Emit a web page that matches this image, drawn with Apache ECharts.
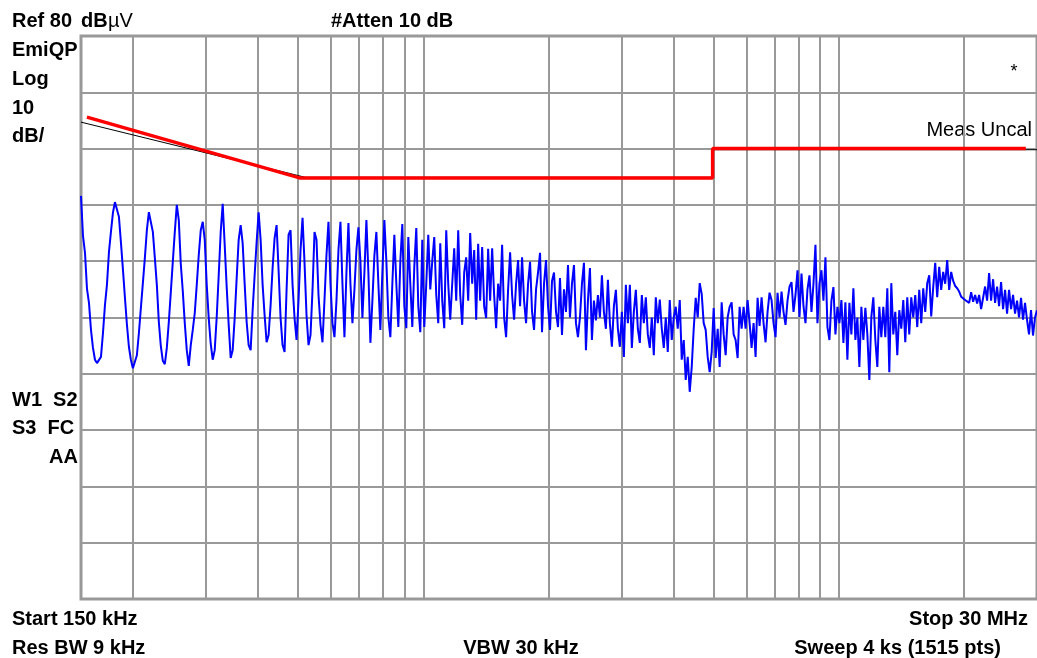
<!DOCTYPE html>
<html>
<head>
<meta charset="utf-8">
<script src="https://cdn.jsdelivr.net/npm/echarts@6/dist/echarts.min.js"></script>
<style>
html,body{margin:0;padding:0;background:#fff;}
#chart{width:1037px;height:658px;}
</style>
</head>
<body>
<div id="chart"></div>
<script>
// sweep (MHz), trace points are spread log-wise from start to stop
var startMHz = 0.15;
var stopMHz = 30;

// EmiQP trace, dBuV
var traceLevels = [
	51.6, 44.5, 41.5, 35.1, 32.6, 27.8, 24.6, 22.5, 21.9, 22.1,
	23.0, 27.2, 32.2, 35.8, 41.6, 45.2, 48.6, 50.5, 50.3, 47.9,
	43.4, 38.6, 33.6, 28.8, 24.8, 22.5, 21.0, 21.2, 23.3, 27.2,
	31.7, 36.1, 40.6, 45.5, 48.7, 48.7, 45.2, 40.6, 35.8, 29.2,
	24.9, 22.3, 21.7, 24.6, 29.2, 34.5, 39.9, 45.2, 50.0, 47.3,
	39.5, 34.7, 29.0, 24.2, 21.4, 25.1, 27.8, 30.8, 35.8, 41.1,
	45.5, 47.0, 43.8, 35.8, 29.9, 25.3, 22.5, 24.2, 30.1, 37.5,
	45.2, 50.2, 42.9, 35.4, 28.7, 22.8, 24.2, 29.9, 37.0, 43.8,
	46.4, 43.2, 36.0, 29.2, 25.1, 24.2, 31.3, 37.5, 43.4, 48.7,
	43.8, 35.8, 30.4, 25.6, 26.9, 32.2, 38.8, 44.1, 46.4, 38.4,
	29.9, 25.1, 23.9, 34.9, 44.7, 45.5, 35.8, 29.9, 26.0, 33.1,
	42.0, 47.7, 39.7, 30.4, 25.1, 26.9, 34.9, 45.2, 43.8, 34.0,
	28.7, 25.6, 33.1, 41.1, 47.0,
	36.0, 29.0, 26.5, 33.0, 42.0, 47.0, 36.0, 26.5, 38.0, 46.8,
	36.0, 29.0, 35.0, 42.0, 46.0, 40.0, 29.9, 38.0, 47.3, 38.0,
	25.5, 33.0, 41.0, 45.2, 36.0, 27.8, 38.0, 47.3, 40.0, 30.0,
	26.5, 36.0, 44.7, 36.0, 28.3, 40.0, 46.6, 32.0, 28.1, 44.3,
	36.0, 28.3, 39.0, 45.9, 32.0, 27.4, 43.8, 28.3, 36.0, 44.7,
	35.0, 40.0, 44.3, 34.0, 29.0, 43.2, 33.0, 28.1, 45.5, 36.0,
	29.6, 36.0, 42.3, 33.0, 45.5, 34.0, 28.7, 38.0, 40.7, 33.0,
	45.0, 36.0, 42.0, 29.6, 43.1, 33.0, 42.5, 32.0, 29.9, 42.2,
	33.0, 42.3, 34.0, 28.1, 36.0, 33.0, 42.9, 30.0, 26.5, 35.0,
	41.6, 34.0, 29.6, 36.0, 40.2, 32.0, 40.7, 33.0, 29.0, 36.0,
	39.9, 31.0, 27.8, 35.0, 38.0, 41.5, 27.4, 36.0, 40.2, 32.0,
	27.8, 36.5, 38.0, 31.0, 28.3, 37.0, 26.9, 35.0, 31.0, 39.3,
	30.0, 36.0, 39.3, 29.0, 26.5,
	30.0, 36.0, 39.7, 24.2, 33.0, 38.8, 26.0, 33.0, 29.5, 34.0,
	30.0, 37.5, 31.0, 28.0, 36.7, 29.0, 24.8, 32.0, 34.9, 28.0,
	24.8, 31.0, 23.0, 35.8, 29.0, 35.8, 24.6, 31.0, 34.9, 28.0,
	25.5, 34.0, 29.0, 33.6, 27.0, 24.6, 30.0, 23.3, 33.6, 29.0,
	33.2, 28.0, 24.6, 30.0, 23.9, 33.1, 26.0, 30.0, 31.9, 28.0,
	33.1, 22.5, 26.0, 18.9, 23.0, 16.8, 21.2, 28.0, 33.5, 30.0,
	36.1, 34.2, 29.0, 27.8, 23.0, 20.3, 23.9, 31.7, 22.8, 28.0,
	21.2, 32.7, 27.0, 23.3, 30.0, 31.9, 32.7, 27.0, 26.0, 22.8,
	31.9, 28.0, 31.9, 28.0, 33.1, 29.0, 24.6, 29.0, 23.0, 33.5,
	28.5, 33.6, 29.0, 25.6, 31.0, 34.4, 33.1, 29.0, 26.5, 34.4,
	30.0, 34.6, 31.0, 28.7, 33.0, 35.5, 36.3, 31.0, 34.0, 38.4,
	30.1, 37.8, 32.0, 29.0, 35.0, 37.5, 31.0, 36.0, 42.9, 29.0,
	36.0, 38.4, 33.0, 40.7, 28.3, 26.0, 33.0, 35.4, 27.0, 31.9,
	29.0, 33.1, 25.5, 32.7, 22.5, 32.6, 27.0, 35.2, 26.0, 30.0,
	21.2, 31.9, 26.0, 31.7, 27.0, 18.9, 30.1, 33.6, 26.0, 21.2,
	31.9, 26.5, 31.9, 26.5, 35.2, 20.3, 36.1, 27.0, 31.0, 23.3,
	31.3, 28.0, 33.1, 25.6, 33.6, 27.0, 33.6, 30.0, 34.0, 28.3,
	34.9, 29.0, 35.2, 31.0, 36.1, 37.5, 30.2, 35.4, 39.7, 33.6,
	39.0, 34.9, 38.1, 36.0, 40.2, 34.9, 38.1, 36.5, 35.6, 35.2,
	34.6, 33.7, 33.4, 33.1, 32.8, 32.6, 34.5, 32.8, 34.0, 32.5,
	34.0, 31.5, 33.5, 35.5, 33.0, 37.9, 33.0, 36.8, 32.6, 35.5,
	32.0, 36.3, 31.5, 34.9, 30.7, 34.9, 31.5, 34.0, 30.7, 33.0,
	30.0, 33.5, 29.6, 32.6, 29.6, 27.0, 31.3, 26.8, 30.0, 31.3
];

// limit lines
var redFreq = [0.155, 0.504, 4.97, 4.97, 28.2];
var redLevel = [65.6, 54.8, 54.8, 60.0, 60.0];
var blackFreq = [0.15, 0.52, 4.97, 4.97, 30];
var blackLevel = [64.7, 54.9, 54.9, 59.8, 59.8];

// vertical graticule (MHz)
var gridFreqs = [0.2, 0.3, 0.4, 0.5, 0.6, 0.7, 0.8, 0.9, 1, 2, 3, 4, 5, 6, 7, 8, 9, 10, 20];

function pairs(xs, ys) {
	var out = [];
	for (var i = 0; i < xs.length; i++) out.push([xs[i], ys[i]]);
	return out;
}

var n = traceLevels.length;
var traceData = traceLevels.map(function (v, i) {
	return [startMHz * Math.pow(stopMHz / startMHz, i / (n - 1)), v];
});

var FONT = '"Liberation Sans", Arial, sans-serif';
function label(text, x, y, opt) {
	opt = opt || {};
	var align = opt.align || 'left';
	return {
		type: 'text', x: x, y: y, silent: true,
		style: {
			text: text,
			font: (opt.weight || 'bold') + ' ' + (opt.size || 20) + 'px ' + FONT,
			fill: '#000',
			align: align, textAlign: align,
			verticalAlign: 'middle', textVerticalAlign: 'middle'
		}
	};
}

var myChart = echarts.init(document.getElementById('chart'));
var option = {
	animation: false,
	backgroundColor: '#fff',
	grid: {
		left: 81, right: -3, top: 36, bottom: 59,
		show: true, borderColor: '#999', borderWidth: 3
	},
	xAxis: {
		type: 'log', logBase: 10, min: startMHz, max: stopMHz,
		axisLine: {show: false}, axisTick: {show: false},
		axisLabel: {show: false}, splitLine: {show: false}
	},
	yAxis: {
		type: 'value', min: -20, max: 80, interval: 10,
		axisLine: {show: false}, axisTick: {show: false},
		axisLabel: {show: false},
		splitLine: {lineStyle: {color: '#999', width: 2}}
	},
	series: [
		{
			type: 'line', data: [], z: 1, silent: true,
			markLine: {
				z: 1, silent: true, symbol: ['none', 'none'],
				label: {show: false},
				lineStyle: {color: '#999', width: 2, type: 'solid'},
				emphasis: {disabled: true},
				data: gridFreqs.map(function (f) { return {xAxis: f}; })
			}
		},
		{
			type: 'line', data: traceData, z: 3,
			symbol: 'none', silent: true,
			lineStyle: {color: '#0000ff', width: 2}
		},
		{
			type: 'line', data: pairs(blackFreq, blackLevel), z: 4,
			symbol: 'none', silent: true,
			lineStyle: {color: '#000', width: 1}
		},
		{
			type: 'line', data: pairs(redFreq, redLevel), z: 5,
			symbol: 'none', silent: true,
			lineStyle: {color: '#ff0000', width: 3.5}
		}
	],
	graphic: [
		label('Ref 80', 12, 21),
		label('dB', 81, 21),
		label('\u00b5V', 108, 21, {weight: 'normal'}),
		label('#Atten 10 dB', 331, 21),
		label('EmiQP', 12, 50),
		label('Log', 12, 79),
		label('10', 12, 108),
		label('dB/', 12, 136),
		label('W1  S2', 12, 400),
		label('S3  FC', 12, 428),
		label('AA', 78, 457, {align: 'right'}),
		label('Start 150 kHz', 12, 619),
		label('Res BW 9 kHz', 12, 648),
		label('VBW 30 kHz', 521, 648, {align: 'center'}),
		label('Stop 30 MHz', 1028, 619, {align: 'right'}),
		label('Sweep 4 ks (1515 pts)', 1001, 648, {align: 'right'}),
		label('Meas Uncal', 1032, 130, {weight: 'normal', size: 20, align: 'right'}),
		label('*', 1014, 72, {weight: 'normal', size: 18, align: 'center'})
	]
};
myChart.setOption(option);
</script>
</body>
</html>
